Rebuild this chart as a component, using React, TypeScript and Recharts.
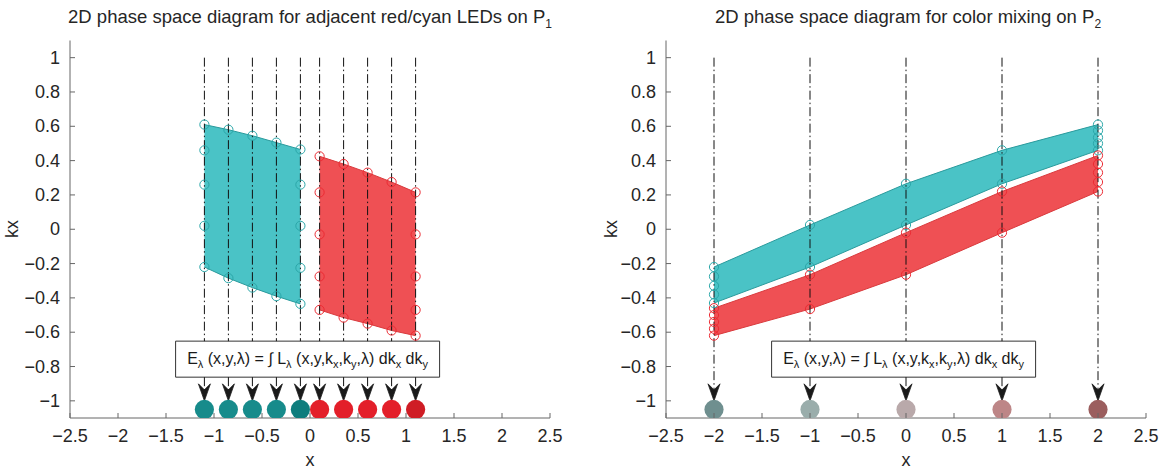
import { ComposedChart, Area, Line, Scatter, XAxis, YAxis, ReferenceArea, Cell } from "recharts";

// axis ticks
const xTicks = [-2.5, -2, -1.5, -1, -0.5, 0, 0.5, 1, 1.5, 2, 2.5];
const kxTicks = [-1, -0.8, -0.6, -0.4, -0.2, 0, 0.2, 0.4, 0.6, 0.8, 1];

// left panel: adjacent red / cyan LEDs
const cyanX = [-1.1, -0.85, -0.6, -0.35, -0.1];
const cyanTop = [0.61, 0.58, 0.545, 0.505, 0.465];
const cyanBottom = [-0.22, -0.285, -0.34, -0.39, -0.435];
const cyanLeftEdge = [0.61, 0.46, 0.26, 0.02, -0.22];
const cyanRightEdge = [0.465, 0.26, 0.02, -0.225, -0.435];

const redX = [0.1, 0.35, 0.6, 0.85, 1.1];
const redTop = [0.425, 0.38, 0.33, 0.275, 0.215];
const redBottom = [-0.47, -0.515, -0.55, -0.59, -0.62];
const redLeftEdge = [0.425, 0.215, -0.03, -0.275, -0.47];
const redRightEdge = [0.215, -0.03, -0.275, -0.47, -0.62];

const ledColorsLeft = ["#178b8b", "#178b8b", "#178b8b", "#178b8b", "#0e7d7d", "#e31f2a", "#e31f2a", "#e31f2a", "#e31f2a", "#cf1d25"];

// right panel: colour mixing
const mixX = [-2, -1, 0, 1, 2];
const mixCyanTop = [-0.22, 0.025, 0.265, 0.46, 0.61];
const mixCyanBottom = [-0.43, -0.22, 0.025, 0.265, 0.46];
const mixRedTop = [-0.46, -0.265, -0.02, 0.22, 0.43];
const mixRedBottom = [-0.62, -0.465, -0.265, -0.02, 0.22];
const mixCyanStartStack = [-0.22, -0.275, -0.33, -0.38, -0.43];
const mixRedStartStack = [-0.46, -0.5, -0.54, -0.58, -0.62];
const mixCyanEndStack = [0.61, 0.575, 0.535, 0.5, 0.46];
const mixRedEndStack = [0.43, 0.38, 0.33, 0.275, 0.22];
const ledColorsRight = ["#6f8f8f", "#9aadab", "#b9a9aa", "#bd8687", "#9b5e5e"];

// annotation box / guide levels (data units)
const boxX = [-1.4, 1.35];
const boxKx = [-0.862, -0.652];
const guideTop = 1;
const arrowTip = -1.0;
const ledKx = -1.05;

const CYAN_FILL = "#4ac3c6";
const CYAN_EDGE = "#2a9a9c";
const CYAN_MARK = "#2ba7a9";
const RED_FILL = "#ef5054";
const RED_EDGE = "#d93a3d";
const RED_MARK = "#ec2b33";
const FONT = "'Liberation Sans', Arial, Helvetica, sans-serif";

const fmt = (v: number) => (v < 0 ? "\u2212" : "") + String(Math.abs(Math.round(v * 10) / 10));

const band = (xs: number[], lo: number[], hi: number[]) => xs.map((x, i) => ({ x, range: [lo[i], hi[i]] }));
const pts = (xs: number[], ys: number[]) => xs.map((x, i) => ({ x, y: ys[i] }));
const column = (x: number, ys: number[]) => ys.map((y) => ({ x, y }));

function guideSegments(xs: number[]) {
  const segs: { x: number; y: number }[][] = [];
  xs.forEach((x) => {
    if (x > boxX[0] && x < boxX[1]) {
      segs.push([{ x, y: guideTop }, { x, y: boxKx[1] }]);
      segs.push([{ x, y: boxKx[0] }, { x, y: arrowTip + 0.02 }]);
    } else {
      segs.push([{ x, y: guideTop }, { x, y: arrowTip + 0.02 }]);
    }
  });
  return segs;
}

const XTick = (props: any) => {
  const { x, y, payload } = props;
  return (
    <g>
      <line x1={x} x2={x} y1={y} y2={y - 5} stroke="#666" />
      <text x={x} y={y + 24} textAnchor="middle" fontSize={18} fill="#262626" fontFamily={FONT}>
        {fmt(payload.value)}
      </text>
    </g>
  );
};

const YTick = (props: any) => {
  const { x, y, payload } = props;
  return (
    <g>
      <line x1={x} x2={x + 5} y1={y} y2={y} stroke="#666" />
      <text x={x - 10} y={y + 6} textAnchor="end" fontSize={18} fill="#262626" fontFamily={FONT}>
        {fmt(payload.value)}
      </text>
    </g>
  );
};

const openCircle = (color: string) => (p: any) => (
  <circle cx={p.cx} cy={p.cy} r={4.6} fill="none" stroke={color} strokeWidth={1} />
);

const ledDot = (p: any) => <circle cx={p.cx} cy={p.cy} r={9.6} fill={p.fill} />;

const arrowHead = (p: any) => {
  const { cx, cy } = p;
  return (
    <polygon
      points={`${cx},${cy} ${cx - 6},${cy - 17} ${cx},${cy - 11} ${cx + 6},${cy - 17}`}
      fill="#1a1a1a"
      stroke="#1a1a1a"
      strokeWidth={0.8}
    />
  );
};

const EqLabel = (props: any) => {
  const vb = props.viewBox || {};
  const cx = vb.x + vb.width / 2;
  const cy = vb.y + vb.height / 2;
  const s = 11;
  return (
    <text x={cx} y={cy + 5} textAnchor="middle" fontSize={16} fill="#1a1a1a" fontFamily={FONT}>
      <tspan>E</tspan>
      <tspan fontSize={s} dy={4}>λ</tspan>
      <tspan dy={-4}> (x,y,λ) = ∫ L</tspan>
      <tspan fontSize={s} dy={4}>λ</tspan>
      <tspan dy={-4}> (x,y,k</tspan>
      <tspan fontSize={s} dy={4}>x</tspan>
      <tspan dy={-4}>,k</tspan>
      <tspan fontSize={s} dy={4}>y</tspan>
      <tspan dy={-4}>,λ) dk</tspan>
      <tspan fontSize={s} dy={4}>x</tspan>
      <tspan dy={-4}> dk</tspan>
      <tspan fontSize={s} dy={4}>y</tspan>
    </text>
  );
};

function Panel(props: {
  marginLeft: number;
  marginRight: number;
  bands: { data: any[]; fill: string; stroke: string }[];
  markers: { data: any[]; color: string }[];
  guides: number[];
  leds: any[];
  ledColors: string[];
}) {
  const { marginLeft, marginRight, bands, markers, guides, leds, ledColors } = props;
  return (
    <ComposedChart width={580} height={469} margin={{ top: 40.5, right: marginRight, bottom: 11, left: marginLeft }}>
      <XAxis
        type="number"
        dataKey="x"
        domain={[-2.5, 2.5]}
        ticks={xTicks}
        interval={0}
        allowDataOverflow
        height={40}
        tickSize={0}
        tickMargin={0}
        tickLine={false}
        tick={XTick}
        axisLine={{ stroke: "#666" }}
      />
      <YAxis
        type="number"
        domain={[-1.1, 1.1]}
        ticks={kxTicks}
        interval={0}
        allowDataOverflow
        width={60}
        tickSize={0}
        tickMargin={0}
        tickLine={false}
        tick={YTick}
        axisLine={{ stroke: "#666" }}
      />
      {bands.map((b, i) => (
        <Area
          key={"band" + i}
          data={b.data}
          dataKey="range"
          type="linear"
          fill={b.fill}
          fillOpacity={1}
          stroke={b.stroke}
          strokeWidth={1}
          isAnimationActive={false}
          activeDot={false}
          dot={false}
        />
      ))}
      {guideSegments(guides).map((seg, i) => (
        <Line
          key={"guide" + i}
          data={seg}
          dataKey="y"
          type="linear"
          stroke="#111"
          strokeWidth={1}
          strokeDasharray="9 3 1.5 3"
          dot={false}
          activeDot={false}
          isAnimationActive={false}
        />
      ))}
      {markers.map((m, i) => (
        <Scatter key={"mk" + i} data={m.data} dataKey="y" shape={openCircle(m.color)} isAnimationActive={false} />
      ))}
      <ReferenceArea
        x1={boxX[0]}
        x2={boxX[1]}
        y1={boxKx[0]}
        y2={boxKx[1]}
        fill="#ffffff"
        fillOpacity={1}
        stroke="#333"
        strokeWidth={1}
        label={EqLabel}
      />
      <Scatter data={guides.map((x) => ({ x, y: arrowTip }))} dataKey="y" shape={arrowHead} isAnimationActive={false} />
      <Scatter data={leds} dataKey="y" shape={ledDot} isAnimationActive={false}>
        {leds.map((_, i) => (
          <Cell key={i} fill={ledColors[i]} />
        ))}
      </Scatter>
    </ComposedChart>
  );
}

const abs = (left: number, top: number, extra: any = {}) => ({
  position: "absolute" as const,
  left,
  top,
  fontFamily: FONT,
  color: "#262626",
  whiteSpace: "nowrap" as const,
  ...extra,
});

export default function App() {
  const leftGuides = cyanX.concat(redX);
  const leftLeds = leftGuides.map((x) => ({ x, y: ledKx }));
  const rightLeds = mixX.map((x) => ({ x, y: ledKx }));

  const leftMarkers = [
    {
      data: column(cyanX[0], cyanLeftEdge)
        .concat(column(cyanX[4], cyanRightEdge))
        .concat(pts(cyanX.slice(1, 4), cyanTop.slice(1, 4)))
        .concat(pts(cyanX.slice(1, 4), cyanBottom.slice(1, 4))),
      color: CYAN_MARK,
    },
    {
      data: column(redX[0], redLeftEdge)
        .concat(column(redX[4], redRightEdge))
        .concat(pts(redX.slice(1, 4), redTop.slice(1, 4)))
        .concat(pts(redX.slice(1, 4), redBottom.slice(1, 4))),
      color: RED_MARK,
    },
  ];

  const rightMarkers = [
    {
      data: column(mixX[0], mixCyanStartStack)
        .concat(column(mixX[4], mixCyanEndStack))
        .concat(pts(mixX.slice(1, 4), mixCyanTop.slice(1, 4)))
        .concat(pts(mixX.slice(1, 4), mixCyanBottom.slice(1, 4))),
      color: CYAN_MARK,
    },
    {
      data: column(mixX[0], mixRedStartStack)
        .concat(column(mixX[4], mixRedEndStack))
        .concat(pts(mixX.slice(1, 4), mixRedTop.slice(1, 4)))
        .concat(pts(mixX.slice(1, 4), mixRedBottom.slice(1, 4))),
      color: RED_MARK,
    },
  ];

  return (
    <div style={{ position: "absolute", left: 0, top: 0, width: 1160, height: 469, background: "#fff", overflow: "hidden" }}>
      <div style={{ position: "absolute", left: 0, top: 0 }}>
        <Panel
          marginLeft={10}
          marginRight={30}
          bands={[
            { data: band(cyanX, cyanBottom, cyanTop), fill: CYAN_FILL, stroke: CYAN_EDGE },
            { data: band(redX, redBottom, redTop), fill: RED_FILL, stroke: RED_EDGE },
          ]}
          markers={leftMarkers}
          guides={leftGuides}
          leds={leftLeds}
          ledColors={ledColorsLeft}
        />
      </div>
      <div style={{ position: "absolute", left: 580, top: 0 }}>
        <Panel
          marginLeft={26}
          marginRight={14}
          bands={[
            { data: band(mixX, mixCyanBottom, mixCyanTop), fill: CYAN_FILL, stroke: CYAN_EDGE },
            { data: band(mixX, mixRedBottom, mixRedTop), fill: RED_FILL, stroke: RED_EDGE },
          ]}
          markers={rightMarkers}
          guides={mixX}
          leds={rightLeds}
          ledColors={ledColorsRight}
        />
      </div>

      <div style={abs(310, 6, { fontSize: 18.5, transform: "translateX(-50%)" })}>
        2D phase space diagram for adjacent red/cyan LEDs on P<sub style={{ fontSize: 12 }}>1</sub>
      </div>
      <div style={abs(908, 6, { fontSize: 18.5, transform: "translateX(-50%)" })}>
        2D phase space diagram for color mixing on P<sub style={{ fontSize: 12 }}>2</sub>
      </div>

      <div style={abs(12, 229, { fontSize: 18, lineHeight: "18px", transform: "translate(-50%, -50%) rotate(-90deg)" })}>kx</div>
      <div style={abs(611, 229, { fontSize: 18, lineHeight: "18px", transform: "translate(-50%, -50%) rotate(-90deg)" })}>kx</div>

      <div style={abs(310, 452, { fontSize: 18, lineHeight: "16px", transform: "translateX(-50%)" })}>x</div>
      <div style={abs(906, 452, { fontSize: 18, lineHeight: "16px", transform: "translateX(-50%)" })}>x</div>
    </div>
  );
}
